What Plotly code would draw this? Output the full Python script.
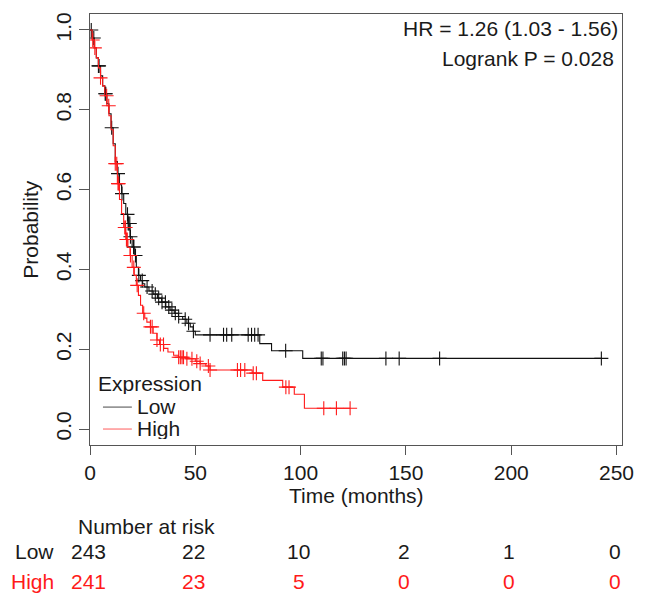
import bisect
import plotly.graph_objects as go

# ---------------- data ----------------
low_t = [0, 1, 2, 3, 4, 5, 6, 7, 8, 9, 10, 11, 12, 13, 14, 15, 16, 17, 18, 19, 20,
         21, 22, 23, 24, 25, 26, 28, 30, 32, 34, 36, 38, 40, 42, 44, 46, 47.6, 49, 50,
         80.6, 86.2, 101]
low_s = [1.0, 0.98, 0.955, 0.93, 0.91, 0.885, 0.86, 0.84, 0.815, 0.79, 0.755, 0.715,
         0.67, 0.64, 0.612, 0.59, 0.565, 0.538, 0.515, 0.482, 0.456, 0.435, 0.405, 0.385,
         0.372, 0.364, 0.356, 0.346, 0.338, 0.328, 0.318, 0.306, 0.298, 0.29, 0.282,
         0.275, 0.265, 0.256, 0.245, 0.236, 0.214, 0.196, 0.177]
low_end = 242.8
low_cens = [0.6, 1.8, 4, 4.3, 7.2, 7.5, 10.3, 13.3, 15.2, 17.8, 18.1, 18.4, 18.9, 19.2,
            20.7, 20.8, 21.6, 23.2, 24.8, 27.1, 29.5, 31, 32.6, 34.2, 35.8, 37.4, 38.9,
            40.5, 42.1, 45.2, 46.8, 49.1, 57, 63.4, 64.9, 67.3, 75.1, 76.7, 78.2, 79.8,
            92.9, 109.8, 110.6, 120, 120.8, 121.6, 140.5, 146.8, 166, 242.8]

high_t = [0, 1, 2, 3, 4, 5, 6, 7, 8, 9, 10, 11, 12, 13, 14, 15, 16, 17, 18, 19, 20, 21,
          22, 23, 24, 25, 26, 27, 28.7, 30, 31.8, 33, 35, 37, 39.7, 42, 46, 50, 52.3, 55,
          57, 77, 82, 91.5, 97, 101.8]
high_s = [1.0, 0.975, 0.955, 0.93, 0.905, 0.88, 0.86, 0.835, 0.81, 0.785, 0.75, 0.71,
          0.665, 0.615, 0.575, 0.54, 0.505, 0.475, 0.455, 0.435, 0.405, 0.385, 0.36,
          0.335, 0.31, 0.29, 0.278, 0.268, 0.256, 0.24, 0.223, 0.212, 0.202, 0.193,
          0.185, 0.18, 0.176, 0.17, 0.164, 0.158, 0.148, 0.14, 0.122, 0.105, 0.087, 0.052]
high_end = 123.5
high_cens = [1.3, 2.3, 5, 7.9, 8.9, 12, 12.7, 13.3, 13.6, 16.5, 16.9, 17.3, 17.7, 19.2,
             20.8, 22.4, 25.5, 28.7, 29.5, 31.8, 33.4, 34.9, 42.1, 42.9, 43.7, 44.4, 46,
             48.4, 50.7, 52.3, 56.2, 57, 70, 71.5, 73.5, 77.5, 79, 93, 94.5, 111, 117,
             123.5]

risk_times = [0, 50, 100, 150, 200, 250]
low_risk = [243, 22, 10, 2, 1, 0]
high_risk = [241, 23, 5, 0, 0, 0]

x_ticks = [0, 50, 100, 150, 200, 250]
y_ticks = [0.0, 0.2, 0.4, 0.6, 0.8, 1.0]
y_ticklabels = ["0.0", "0.2", "0.4", "0.6", "0.8", "1.0"]

group_names = ["Low", "High"]
hr_text = "HR = 1.26 (1.03 - 1.56)"
p_text = "Logrank P = 0.028"

# ---------------- styling ----------------
FONT = "Liberation Sans, Arial, sans-serif"
FS = 21
TXT = "#1a1a1a"
BLACK = "#111111"
RED = "#ff1a1a"
AX = "#555555"

W, H = 646, 594
ML, MR, MT, MB = 90, 22, 13, 149
PW, PH = W - ML - MR, H - MT - MB
X_RANGE = [0, 252.6]


def step_at(ts, ss, t):
    i = bisect.bisect_right(ts, t) - 1
    return ss[max(i, 0)]


fig = go.Figure()

for ts, ss, end, cens, col in [
    (low_t, low_s, low_end, low_cens, BLACK),
    (high_t, high_s, high_end, high_cens, RED),
]:
    fig.add_trace(go.Scatter(
        x=ts + [end], y=ss + [ss[-1]], mode="lines",
        line=dict(color=col, width=1.1, shape="hv"),
        showlegend=False, hoverinfo="skip"))
    fig.add_trace(go.Scatter(
        x=cens, y=[step_at(ts, ss, c) for c in cens], mode="markers",
        marker=dict(symbol="cross-thin", size=10,
                    line=dict(color=col, width=1.1)),
        showlegend=False, hoverinfo="skip"))

fig.update_layout(
    width=W, height=H, autosize=False,
    margin=dict(l=ML, r=MR, t=MT, b=MB, pad=0),
    paper_bgcolor="white", plot_bgcolor="white",
    font=dict(family=FONT, size=FS, color=TXT),
    showlegend=False,
)

fig.update_xaxes(
    range=X_RANGE, tickvals=x_ticks, ticktext=[str(v) for v in x_ticks],
    showgrid=False, zeroline=False, showline=True, mirror=True,
    linecolor=AX, linewidth=1, ticks="outside", ticklen=9, tickcolor=AX,
    tickwidth=1, tickfont=dict(size=FS, color=TXT),
)
fig.update_yaxes(
    range=[-0.04, 1.04], tickvals=y_ticks, ticktext=y_ticklabels,
    showgrid=False, zeroline=False, showline=True, mirror=True,
    linecolor=AX, linewidth=1, ticks="outside", ticklen=10, tickcolor=AX,
    tickwidth=1, tickangle=-90, tickfont=dict(size=FS, color=TXT),
)


def py(pix):
    """pixel row -> paper y"""
    return (H - MB - pix) / PH


def px(pix):
    """pixel column -> paper x"""
    return (pix - ML) / PW


def tx(t):
    """time value -> paper x (same scale as the x axis)"""
    return (t - X_RANGE[0]) / (X_RANGE[1] - X_RANGE[0])


ann = []
# axis titles
ann.append(dict(text="Time (months)", xref="paper", yref="paper", x=0.5, y=py(496),
                xanchor="center", yanchor="middle", showarrow=False))
ann.append(dict(text="Probability", xref="paper", yref="paper", x=px(30), y=0.5,
                xanchor="center", yanchor="middle", textangle=-90, showarrow=False))
# HR / logrank
ann.append(dict(text=hr_text, xref="paper", yref="paper", x=px(622), y=py(28),
                xanchor="right", yanchor="middle", showarrow=False))
ann.append(dict(text=p_text, xref="paper", yref="paper", x=px(618), y=py(58),
                xanchor="right", yanchor="middle", showarrow=False))
# legend
ann.append(dict(text="Expression", xref="paper", yref="paper", x=px(97), y=py(383),
                xanchor="left", yanchor="middle", showarrow=False, borderpad=0,
                height=22))
leg_rows = [406, 428]
for name, col, row in zip(group_names, [BLACK, RED], leg_rows):
    ann.append(dict(text=name, xref="paper", yref="paper", x=px(136), y=py(row),
                    xanchor="left", yanchor="middle", showarrow=False, borderpad=0,
                    height=22))
shapes = []
for col, row in zip(["#666666", "#ff7777"], leg_rows):
    shapes.append(dict(type="line", xref="paper", yref="paper",
                       x0=px(103), x1=px(132), y0=py(row + 1), y1=py(row + 1),
                       line=dict(color=col, width=1.2)))

# number at risk table
ann.append(dict(text="Number at risk", xref="paper", yref="paper", x=px(76), y=py(527),
                xanchor="left", yanchor="middle", showarrow=False))
for name, vals, col, row in [("Low", low_risk, TXT, 552), ("High", high_risk, RED, 582)]:
    ann.append(dict(text=name, xref="paper", yref="paper", x=px(56), y=py(row),
                    xanchor="right", yanchor="middle", showarrow=False,
                    font=dict(color=col, size=FS)))
    for t, v in zip(risk_times, vals):
        ann.append(dict(text=str(v), xref="paper", yref="paper", x=tx(t), xshift=-2,
                        y=py(row), xanchor="center", yanchor="middle", showarrow=False,
                        font=dict(color=col, size=FS)))

fig.update_layout(annotations=ann, shapes=shapes)
fig.write_html(
    "out.html",
    config={"displayModeBar": False, "staticPlot": True},
    post_script="document.body.style.margin='0';document.body.style.overflow='hidden';",
)
